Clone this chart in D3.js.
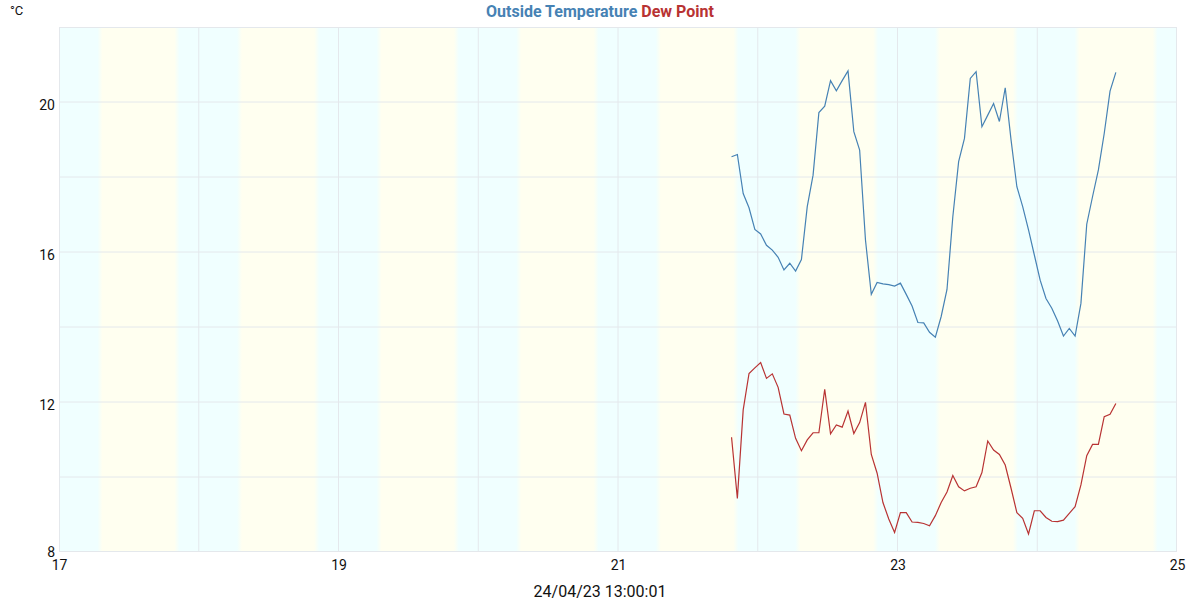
<!DOCTYPE html>
<html>
<head>
<meta charset="utf-8">
<script src="https://cdn.jsdelivr.net/npm/d3@7/dist/d3.min.js"></script>
<style>
  html, body { margin: 0; padding: 0; background: #fff; }
  svg { display: block; font-family: Roboto, "Noto Sans", sans-serif; }
</style>
</head>
<body>
<svg id="chart" width="1200" height="600"></svg>
<script>
// ---- data ----
const startTime = "2023-04-21T19:30:00Z"; // first hourly reading
const outsideTemperature = [
  18.54, 18.60, 17.56, 17.18, 16.60, 16.48, 16.18, 16.05, 15.86, 15.52,
  15.70, 15.49, 15.80, 17.21, 18.05, 19.72, 19.89, 20.57, 20.30, 20.57,
  20.83, 19.21, 18.72, 16.32, 14.87, 15.19, 15.15, 15.13, 15.09, 15.17,
  14.87, 14.56, 14.12, 14.11, 13.86, 13.73, 14.28, 15.00, 16.94, 18.41,
  19.03, 20.63, 20.81, 19.34, 19.65, 19.96, 19.48, 20.38, 18.99, 17.74,
  17.21, 16.59, 15.92, 15.25, 14.76, 14.50, 14.16, 13.76, 13.96, 13.76,
  14.63, 16.74, 17.48, 18.19, 19.16, 20.29, 20.79
];
const dewPoint = [
  11.06, 9.43, 11.79, 12.76, 12.91, 13.05, 12.63, 12.75, 12.39, 11.68,
  11.65, 11.03, 10.70, 10.99, 11.18, 11.18, 12.34, 11.15, 11.39, 11.33,
  11.76, 11.16, 11.45, 11.99, 10.60, 10.10, 9.32, 8.88, 8.52, 9.05,
  9.05, 8.80, 8.79, 8.76, 8.70, 8.97, 9.32, 9.60, 10.04, 9.74,
  9.63, 9.70, 9.74, 10.12, 10.96, 10.72, 10.60, 10.32, 9.70, 9.05,
  8.90, 8.48, 9.10, 9.10, 8.92, 8.82, 8.81, 8.85, 9.03, 9.21,
  9.79, 10.57, 10.87, 10.87, 11.61, 11.67, 11.96
];
// daylight bands (sunrise / sunset, UTC of chart)
const bandDays = ["2023-04-17","2023-04-18","2023-04-19","2023-04-20","2023-04-21","2023-04-22","2023-04-23","2023-04-24"];
const sunrise  = ["07:02","07:00","06:58","06:57","06:55","06:53","06:52","06:50"];
const sunset   = ["20:15","20:15","20:15","20:15","20:15","20:15","20:15","20:15"];
const xDomain = ["2023-04-17T00:00:00Z", "2023-04-25T00:00:00Z"];
const yDomain = [8, 22];
const yLabelTicks = [8, 12, 16, 20];
const yGridTicks = [10, 12, 14, 16, 18, 20];
const titleParts = [{ text: "Outside Temperature", color: "#4682b4" }, { text: " Dew Point", color: "#b83333" }];
const unitLabel = "°C";
const timestamp = "24/04/23 13:00:01";

// ---- chart ----
const svg = d3.select("#chart");
const m = { left: 59, right: 23, top: 27, bottom: 48 };
const W = 1200, H = 600;
const x = d3.scaleUtc().domain(xDomain.map(d => new Date(d))).range([m.left, W - m.right]);
const y = d3.scaleLinear().domain(yDomain).range([H - m.bottom, m.top]);

const defs = svg.append("defs");
const grad = defs.append("linearGradient").attr("id", "dayGrad").attr("x1", "0").attr("x2", "1").attr("y1", "0").attr("y2", "0");
grad.append("stop").attr("offset", "0%").attr("stop-color", "#f0ffff");
grad.append("stop").attr("offset", "6%").attr("stop-color", "#fffff0");
grad.append("stop").attr("offset", "94%").attr("stop-color", "#fffff0");
grad.append("stop").attr("offset", "100%").attr("stop-color", "#f0ffff");
defs.append("clipPath").attr("id", "plotClip").append("rect")
  .attr("x", m.left).attr("y", m.top).attr("width", W - m.left - m.right).attr("height", H - m.top - m.bottom);

const plot = svg.append("g").attr("clip-path", "url(#plotClip)");
plot.append("rect").attr("x", m.left).attr("y", m.top)
  .attr("width", W - m.left - m.right).attr("height", H - m.top - m.bottom).attr("fill", "#f0ffff");

const bands = bandDays.map((d, i) => ({
  start: new Date(d + "T" + sunrise[i] + ":00Z"),
  end: new Date(d + "T" + sunset[i] + ":00Z")
}));
const fade = 2.5;
plot.selectAll("rect.day").data(bands).join("rect").attr("class", "day")
  .attr("x", d => x(d.start) - fade).attr("width", d => x(d.end) - x(d.start) + 2 * fade)
  .attr("y", m.top).attr("height", H - m.top - m.bottom)
  .attr("fill", "url(#dayGrad)");

// grid
const dayTicks = d3.utcDay.range(new Date(xDomain[0]), new Date(xDomain[1]));
plot.selectAll("line.vg").data(dayTicks.slice(1)).join("line").attr("class", "vg")
  .attr("x1", d => x(d)).attr("x2", d => x(d)).attr("y1", m.top).attr("y2", H - m.bottom)
  .attr("stroke", "#e4e8ec").attr("stroke-width", 1);
plot.selectAll("line.hg").data(yGridTicks).join("line").attr("class", "hg")
  .attr("x1", m.left).attr("x2", W - m.right).attr("y1", d => y(d)).attr("y2", d => y(d))
  .attr("stroke", "#e4e8ec").attr("stroke-width", 1);
svg.append("rect").attr("x", m.left + 0.5).attr("y", m.top + 0.5)
  .attr("width", W - m.left - m.right - 1).attr("height", H - m.top - m.bottom - 1)
  .attr("fill", "none").attr("stroke", "#e4e8ec");

// lines
const t0 = new Date(startTime).getTime();
const toPts = arr => arr.map((v, i) => ({ t: new Date(t0 + i * 3600e3), v }));
const line = d3.line().x(d => x(d.t)).y(d => y(d.v));
plot.append("path").datum(toPts(outsideTemperature)).attr("d", line)
  .attr("fill", "none").attr("stroke", "#4682b4").attr("stroke-width", 1.2);
plot.append("path").datum(toPts(dewPoint)).attr("d", line)
  .attr("fill", "none").attr("stroke", "#b83333").attr("stroke-width", 1.2);

// axes
const xAxis = d3.axisBottom(x)
  .tickValues(dayTicks.concat([new Date(xDomain[1])]).filter((d, i) => i % 2 === 0))
  .tickFormat(d3.utcFormat("%-d")).tickSize(0).tickPadding(8);
const gx = svg.append("g").attr("transform", `translate(0,${H - m.bottom})`).call(xAxis);
gx.select(".domain").remove();
gx.selectAll("text").attr("font-size", 14).attr("fill", "#111").attr("font-family", "Roboto, sans-serif");

const yAxis = d3.axisLeft(y).tickValues(yLabelTicks).tickFormat(d3.format("d")).tickSize(0).tickPadding(4);
const gy = svg.append("g").attr("transform", `translate(${m.left},0)`).call(yAxis);
gy.select(".domain").remove();
gy.selectAll("text").attr("font-size", 14).attr("fill", "#111").attr("font-family", "Roboto, sans-serif")
  .attr("dy", d => d === yDomain[0] ? "0.3em" : "0.5em");

// title
const title = svg.append("text").attr("x", W / 2).attr("y", 17).attr("text-anchor", "middle")
  .attr("font-size", 16).attr("font-weight", "bold");
title.selectAll("tspan").data(titleParts).join("tspan").attr("fill", d => d.color).text(d => d.text);

svg.append("text").attr("x", 10).attr("y", 15).attr("font-size", 13).attr("fill", "#111").text(unitLabel);
svg.append("text").attr("x", W / 2).attr("y", 597).attr("text-anchor", "middle")
  .attr("font-size", 16).attr("fill", "#111").text(timestamp);
</script>
</body>
</html>
